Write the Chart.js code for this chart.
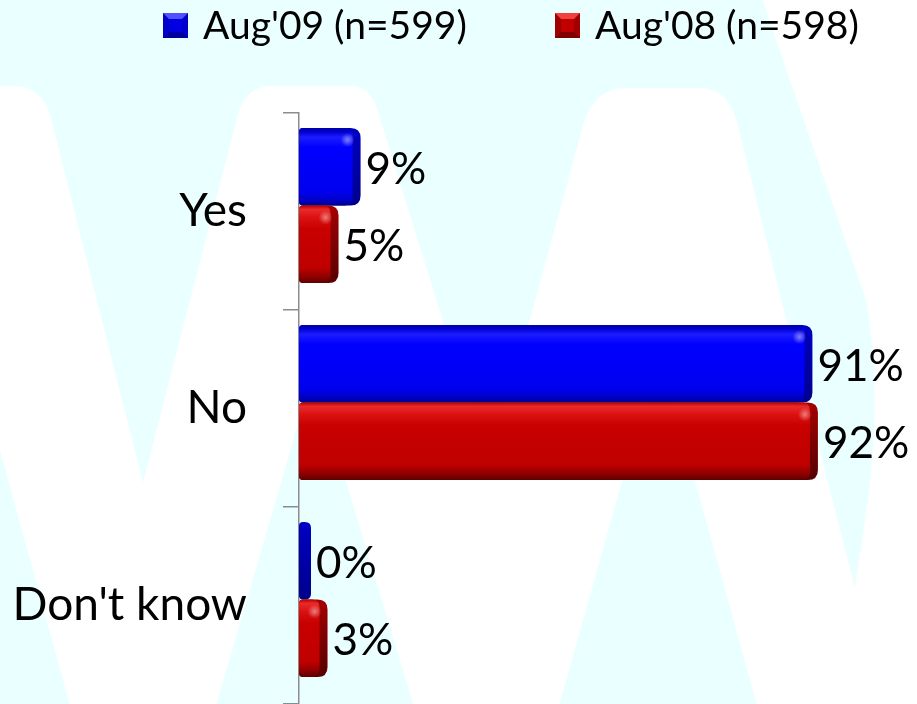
<!DOCTYPE html>
<html>
<head>
<meta charset="utf-8">
<script src="https://cdn.jsdelivr.net/npm/chart.js@4.4.1/dist/chart.umd.min.js"></script>
<style>
  html, body { margin: 0; padding: 0; background: #eaffff; overflow: hidden; }
  #surveyChart { display: block; }
</style>
</head>
<body>
<canvas id="surveyChart" width="917" height="704"></canvas>
<script>
// survey answers, percent of respondents
const categories = ['Yes', 'No', "Don't know"];
const seriesLabels = ["Aug'09 (n=599)", "Aug'08 (n=598)"];
const aug09 = [9, 91, 0];
const aug08 = [5, 92, 3];

const FONT = 'Lato, "Open Sans", sans-serif';
const barDepth = 12;   // width of the rounded end cap
const barLift = 6;     // bars sit a little above the category centre

// colour sets for the bevelled bars
const looks = [
    {
        front: [[0, '#0000a6'], [0.05, '#0000d2'], [0.12, '#1c1cff'], [0.25, '#0000ff'], [0.82, '#0000f0'], [0.94, '#0000c4'], [1, '#000088']],
        side: [[0, '#0000c4'], [1, '#00008c']],
        key: ['#0000e0', '#5050ff', '#0000a0', '#0000c8']
    },
    {
        front: [[0, '#b00000'], [0.05, '#ea2a2a'], [0.15, '#dc1212'], [0.3, '#c80000'], [0.8, '#c00000'], [0.92, '#8e0000'], [1, '#5e0000']],
        side: [[0, '#a40000'], [1, '#580000']],
        key: ['#c00000', '#f04040', '#800000', '#a00000']
    }
];

function makeGradient(ctx, top, bottom, stops) {
    const g = ctx.createLinearGradient(0, top, 0, bottom);
    stops.forEach(s => g.addColorStop(s[0], s[1]));
    return g;
}

function roundRectPath(ctx, x, y, w, h, rl, rr) {
    ctx.beginPath();
    ctx.moveTo(x + rl, y);
    ctx.lineTo(x + w - rr, y);
    ctx.quadraticCurveTo(x + w, y, x + w, y + rr);
    ctx.lineTo(x + w, y + h - rr);
    ctx.quadraticCurveTo(x + w, y + h, x + w - rr, y + h);
    ctx.lineTo(x + rl, y + h);
    ctx.quadraticCurveTo(x, y + h, x, y + h - rl);
    ctx.lineTo(x, y + rl);
    ctx.quadraticCurveTo(x, y, x + rl, y);
    ctx.closePath();
}

// light cyan page with the big white letter behind the plot
const backdrop = {
    id: 'backdrop',
    beforeDraw(chart) {
        const ctx = chart.ctx;
        ctx.save();
        ctx.fillStyle = '#eaffff';
        ctx.fillRect(0, 0, chart.width, chart.height);
        ctx.fillStyle = '#ffffff';
        ctx.beginPath();
        ctx.moveTo(-100, 86);
        ctx.lineTo(14, 86);
        ctx.quadraticCurveTo(40, 86, 50, 114);
        ctx.lineTo(143, 483);
        ctx.lineTo(238, 114);
        ctx.quadraticCurveTo(246, 86, 272, 86);
        ctx.lineTo(350, 86);
        ctx.quadraticCurveTo(372, 86, 378, 112);
        ctx.lineTo(489, 469);
        ctx.lineTo(584, 122);
        ctx.quadraticCurveTo(596, 88, 625, 88);
        ctx.lineTo(700, 88);
        ctx.quadraticCurveTo(728, 88, 737, 122);
        ctx.lineTo(787, 323);
        ctx.lineTo(855, 588);
        ctx.lineTo(868, 500);
        ctx.quadraticCurveTo(882, 390, 866, 300);
        ctx.lineTo(783, 60);
        ctx.lineTo(762, -2);
        ctx.lineTo(930, -2);
        ctx.lineTo(930, 720);
        ctx.lineTo(761, 720);
        ctx.lineTo(659, 350);
        ctx.lineTo(555, 720);
        ctx.lineTo(418, 720);
        ctx.lineTo(313, 372);
        ctx.lineTo(212, 720);
        ctx.lineTo(74, 720);
        ctx.closePath();
        ctx.fill();
        ctx.restore();
    }
};

// bevelled bars with their value labels, drawn from the bar elements
const bevelBars = {
    id: 'bevelBars',
    beforeDatasetsDraw(chart) {
        const ctx = chart.ctx;
        ctx.save();
        chart.data.datasets.forEach((ds, di) => {
            const look = looks[di];
            chart.getDatasetMeta(di).data.forEach((bar, i) => {
                const L = bar.base;
                const R = bar.x + barDepth;
                const T = bar.y - bar.height / 2 - barLift;
                const H = bar.height;
                const w = R - L;

                // back and end cap
                const rCap = Math.min(10, w / 2);
                roundRectPath(ctx, L, T, w, H, Math.min(4, w / 2), rCap);
                ctx.fillStyle = makeGradient(ctx, T, T + H, look.side);
                ctx.fill();

                // front face
                const fw = w - 14;
                if (fw > 0) {
                    roundRectPath(ctx, L, T, fw + 6, H, 4, 8);
                    ctx.fillStyle = makeGradient(ctx, T, T + H, look.front);
                    ctx.fill();

                    // soft glint at the top corner of the face
                    const gx = L + fw + 1, gy = T + 12;
                    const glint = ctx.createRadialGradient(gx, gy, 0, gx, gy, 7);
                    glint.addColorStop(0, 'rgba(255,255,255,0.45)');
                    glint.addColorStop(1, 'rgba(255,255,255,0)');
                    ctx.fillStyle = glint;
                    ctx.fillRect(gx - 7, gy - 7, 14, 14);
                }

                // value label
                ctx.fillStyle = '#000';
                ctx.font = '44px ' + FONT;
                ctx.textAlign = 'left';
                ctx.textBaseline = 'middle';
                ctx.fillText(ds.data[i] + '%', R + 5, T + H / 2 + 3);
            });
        });
        ctx.restore();
        return false;
    }
};

// legend with bevelled colour keys
const keyLegend = {
    id: 'keyLegend',
    afterDraw(chart) {
        const ctx = chart.ctx;
        const xs = [163, 555];
        const size = 25, y = 13, b = 6;
        ctx.save();
        chart.data.datasets.forEach((ds, di) => {
            const k = looks[di].key;
            const x = xs[di];
            ctx.fillStyle = k[3];
            ctx.fillRect(x, y, size, size);
            // top facet
            ctx.fillStyle = k[1];
            ctx.beginPath();
            ctx.moveTo(x, y); ctx.lineTo(x + size, y);
            ctx.lineTo(x + size - b, y + b); ctx.lineTo(x + b, y + b);
            ctx.closePath(); ctx.fill();
            // bottom facet
            ctx.fillStyle = k[2];
            ctx.beginPath();
            ctx.moveTo(x, y + size); ctx.lineTo(x + size, y + size);
            ctx.lineTo(x + size - b, y + size - b); ctx.lineTo(x + b, y + size - b);
            ctx.closePath(); ctx.fill();
            // centre
            ctx.fillStyle = k[0];
            ctx.fillRect(x + b, y + b, size - 2 * b, size - 2 * b);

            ctx.fillStyle = '#000';
            ctx.font = '39px ' + FONT;
            ctx.textAlign = 'left';
            ctx.textBaseline = 'middle';
            ctx.fillText(ds.label, x + size + 15, y + size / 2 + 1);
        });
        ctx.restore();
    }
};

new Chart(document.getElementById('surveyChart'), {
    type: 'bar',
    data: {
        labels: categories,
        datasets: [
            { label: seriesLabels[0], data: aug09, backgroundColor: '#0000ff' },
            { label: seriesLabels[1], data: aug08, backgroundColor: '#c00000' }
        ]
    },
    options: {
        indexAxis: 'y',
        responsive: false,
        animation: false,
        devicePixelRatio: 1,
        categoryPercentage: 0.787,
        barPercentage: 1,
        layout: { padding: { top: 113, right: 67, bottom: 0, left: 0 } },
        plugins: {
            legend: { display: false },
            tooltip: { enabled: false }
        },
        scales: {
            x: { display: false, min: 0, max: 100 },
            y: {
                grid: { offset: true, drawOnChartArea: false, drawTicks: true, tickLength: 16, color: '#8c8c8c', lineWidth: 1.5 },
                border: { display: true, color: '#8c8c8c', width: 1.5 },
                ticks: { color: '#000', font: { family: FONT, size: 46 }, padding: 36 },
                afterFit(scale) {
                    // axis sits at x=299 and runs to the bottom edge
                    scale.width = 299;
                    scale.paddingTop = 0;
                    scale.paddingBottom = 0;
                }
            }
        }
    },
    plugins: [backdrop, bevelBars, keyLegend]
});
</script>
</body>
</html>
